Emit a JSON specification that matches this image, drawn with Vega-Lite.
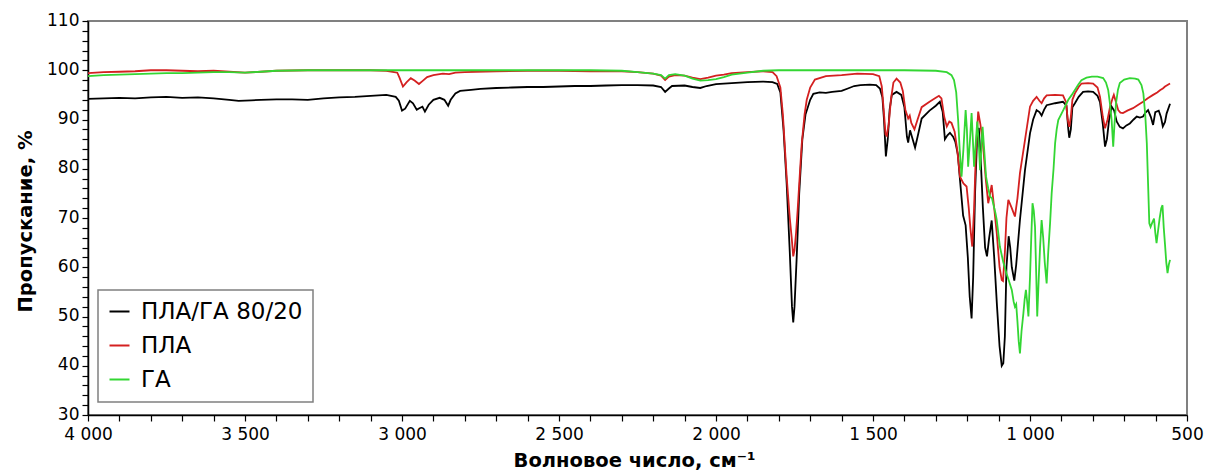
{
  "$schema": "https://vega.github.io/schema/vega-lite/v6.json",
  "width": 1099,
  "height": 394,
  "autosize": {"type": "none"},
  "padding": {"left": 88, "top": 21, "right": 20, "bottom": 57},
  "background": "white",
  "config": {
    "view": {"stroke": "#808080", "strokeWidth": 2},
    "font": "DejaVu Sans",
    "legend": {"strokeWidth": 1.5},
    "axis": {
      "labelFont": "DejaVu Sans", "labelFontSize": 17, "labelColor": "#000000",
      "titleFont": "DejaVu Sans", "titleFontSize": 19.5, "titleFontWeight": "bold", "titleColor": "#000000",
      "domainColor": "#000000", "domainWidth": 1.5, "ticks": true, "tickColor": "#000000", "tickWidth": 1.2, "tickSize": 6, "grid": false
    }
  },
  "data": {
    "values": [
      {"s":"ПЛА/ГА 80/20","w":4000,"t":94.2},{"s":"ПЛА/ГА 80/20","w":3950,"t":94.3},{"s":"ПЛА/ГА 80/20","w":3900,"t":94.4},{"s":"ПЛА/ГА 80/20","w":3850,"t":94.3},{"s":"ПЛА/ГА 80/20","w":3800,"t":94.5},{"s":"ПЛА/ГА 80/20","w":3750,"t":94.6},{"s":"ПЛА/ГА 80/20","w":3700,"t":94.4},{"s":"ПЛА/ГА 80/20","w":3650,"t":94.5},{"s":"ПЛА/ГА 80/20","w":3600,"t":94.3},{"s":"ПЛА/ГА 80/20","w":3550,"t":94.0},{"s":"ПЛА/ГА 80/20","w":3520,"t":93.8},{"s":"ПЛА/ГА 80/20","w":3480,"t":93.9},{"s":"ПЛА/ГА 80/20","w":3450,"t":94.0},{"s":"ПЛА/ГА 80/20","w":3400,"t":94.1},{"s":"ПЛА/ГА 80/20","w":3350,"t":94.1},{"s":"ПЛА/ГА 80/20","w":3300,"t":94.0},{"s":"ПЛА/ГА 80/20","w":3250,"t":94.3},{"s":"ПЛА/ГА 80/20","w":3200,"t":94.5},{"s":"ПЛА/ГА 80/20","w":3150,"t":94.6},{"s":"ПЛА/ГА 80/20","w":3100,"t":94.8},{"s":"ПЛА/ГА 80/20","w":3050,"t":95.0},{"s":"ПЛА/ГА 80/20","w":3020,"t":94.6},{"s":"ПЛА/ГА 80/20","w":3010,"t":93.8},{"s":"ПЛА/ГА 80/20","w":3000,"t":91.8},{"s":"ПЛА/ГА 80/20","w":2990,"t":92.2},{"s":"ПЛА/ГА 80/20","w":2975,"t":93.8},{"s":"ПЛА/ГА 80/20","w":2965,"t":93.3},{"s":"ПЛА/ГА 80/20","w":2953,"t":92.0},{"s":"ПЛА/ГА 80/20","w":2945,"t":92.3},{"s":"ПЛА/ГА 80/20","w":2935,"t":92.6},{"s":"ПЛА/ГА 80/20","w":2927,"t":91.6},{"s":"ПЛА/ГА 80/20","w":2915,"t":93.0},{"s":"ПЛА/ГА 80/20","w":2900,"t":94.0},{"s":"ПЛА/ГА 80/20","w":2880,"t":94.4},{"s":"ПЛА/ГА 80/20","w":2865,"t":94.0},{"s":"ПЛА/ГА 80/20","w":2853,"t":92.8},{"s":"ПЛА/ГА 80/20","w":2845,"t":94.0},{"s":"ПЛА/ГА 80/20","w":2830,"t":95.3},{"s":"ПЛА/ГА 80/20","w":2815,"t":95.8},{"s":"ПЛА/ГА 80/20","w":2780,"t":96.0},{"s":"ПЛА/ГА 80/20","w":2750,"t":96.2},{"s":"ПЛА/ГА 80/20","w":2700,"t":96.4},{"s":"ПЛА/ГА 80/20","w":2650,"t":96.5},{"s":"ПЛА/ГА 80/20","w":2600,"t":96.6},{"s":"ПЛА/ГА 80/20","w":2550,"t":96.6},{"s":"ПЛА/ГА 80/20","w":2500,"t":96.7},{"s":"ПЛА/ГА 80/20","w":2450,"t":96.8},{"s":"ПЛА/ГА 80/20","w":2400,"t":96.8},{"s":"ПЛА/ГА 80/20","w":2350,"t":96.9},{"s":"ПЛА/ГА 80/20","w":2300,"t":97.0},{"s":"ПЛА/ГА 80/20","w":2250,"t":97.0},{"s":"ПЛА/ГА 80/20","w":2200,"t":96.9},{"s":"ПЛА/ГА 80/20","w":2175,"t":96.6},{"s":"ПЛА/ГА 80/20","w":2162,"t":95.6},{"s":"ПЛА/ГА 80/20","w":2150,"t":96.3},{"s":"ПЛА/ГА 80/20","w":2140,"t":96.8},{"s":"ПЛА/ГА 80/20","w":2100,"t":96.9},{"s":"ПЛА/ГА 80/20","w":2075,"t":96.6},{"s":"ПЛА/ГА 80/20","w":2050,"t":96.4},{"s":"ПЛА/ГА 80/20","w":2030,"t":96.8},{"s":"ПЛА/ГА 80/20","w":2000,"t":97.2},{"s":"ПЛА/ГА 80/20","w":1950,"t":97.4},{"s":"ПЛА/ГА 80/20","w":1900,"t":97.6},{"s":"ПЛА/ГА 80/20","w":1850,"t":97.7},{"s":"ПЛА/ГА 80/20","w":1820,"t":97.6},{"s":"ПЛА/ГА 80/20","w":1805,"t":97.2},{"s":"ПЛА/ГА 80/20","w":1795,"t":95.5},{"s":"ПЛА/ГА 80/20","w":1785,"t":88},{"s":"ПЛА/ГА 80/20","w":1775,"t":77},{"s":"ПЛА/ГА 80/20","w":1765,"t":63},{"s":"ПЛА/ГА 80/20","w":1758,"t":52},{"s":"ПЛА/ГА 80/20","w":1754,"t":48.8},{"s":"ПЛА/ГА 80/20","w":1750,"t":52},{"s":"ПЛА/ГА 80/20","w":1743,"t":62},{"s":"ПЛА/ГА 80/20","w":1735,"t":75},{"s":"ПЛА/ГА 80/20","w":1725,"t":86},{"s":"ПЛА/ГА 80/20","w":1715,"t":91},{"s":"ПЛА/ГА 80/20","w":1700,"t":94},{"s":"ПЛА/ГА 80/20","w":1690,"t":95.2},{"s":"ПЛА/ГА 80/20","w":1670,"t":95.5},{"s":"ПЛА/ГА 80/20","w":1650,"t":95.4},{"s":"ПЛА/ГА 80/20","w":1630,"t":95.6},{"s":"ПЛА/ГА 80/20","w":1600,"t":95.8},{"s":"ПЛА/ГА 80/20","w":1580,"t":96.3},{"s":"ПЛА/ГА 80/20","w":1560,"t":96.8},{"s":"ПЛА/ГА 80/20","w":1540,"t":97.0},{"s":"ПЛА/ГА 80/20","w":1510,"t":97.1},{"s":"ПЛА/ГА 80/20","w":1490,"t":97.0},{"s":"ПЛА/ГА 80/20","w":1478,"t":96.3},{"s":"ПЛА/ГА 80/20","w":1470,"t":94.5},{"s":"ПЛА/ГА 80/20","w":1465,"t":90},{"s":"ПЛА/ГА 80/20","w":1459,"t":82.5},{"s":"ПЛА/ГА 80/20","w":1453,"t":86},{"s":"ПЛА/ГА 80/20","w":1447,"t":92},{"s":"ПЛА/ГА 80/20","w":1440,"t":95.0},{"s":"ПЛА/ГА 80/20","w":1425,"t":95.6},{"s":"ПЛА/ГА 80/20","w":1410,"t":95.0},{"s":"ПЛА/ГА 80/20","w":1400,"t":92.5},{"s":"ПЛА/ГА 80/20","w":1392,"t":86.5},{"s":"ПЛА/ГА 80/20","w":1388,"t":85.3},{"s":"ПЛА/ГА 80/20","w":1382,"t":87.8},{"s":"ПЛА/ГА 80/20","w":1376,"t":86.5},{"s":"ПЛА/ГА 80/20","w":1366,"t":84.3},{"s":"ПЛА/ГА 80/20","w":1358,"t":86.5},{"s":"ПЛА/ГА 80/20","w":1345,"t":90.2},{"s":"ПЛА/ГА 80/20","w":1320,"t":91.8},{"s":"ПЛА/ГА 80/20","w":1300,"t":92.8},{"s":"ПЛА/ГА 80/20","w":1287,"t":93.6},{"s":"ПЛА/ГА 80/20","w":1278,"t":91.5},{"s":"ПЛА/ГА 80/20","w":1271,"t":86.0},{"s":"ПЛА/ГА 80/20","w":1263,"t":86.8},{"s":"ПЛА/ГА 80/20","w":1255,"t":87.3},{"s":"ПЛА/ГА 80/20","w":1245,"t":86.5},{"s":"ПЛА/ГА 80/20","w":1238,"t":85.5},{"s":"ПЛА/ГА 80/20","w":1230,"t":83},{"s":"ПЛА/ГА 80/20","w":1223,"t":77.8},{"s":"ПЛА/ГА 80/20","w":1213,"t":70.5},{"s":"ПЛА/ГА 80/20","w":1205,"t":68.5},{"s":"ПЛА/ГА 80/20","w":1198,"t":62},{"s":"ПЛА/ГА 80/20","w":1192,"t":54},{"s":"ПЛА/ГА 80/20","w":1186,"t":49.6},{"s":"ПЛА/ГА 80/20","w":1181,"t":58},{"s":"ПЛА/ГА 80/20","w":1175,"t":75},{"s":"ПЛА/ГА 80/20","w":1168,"t":87},{"s":"ПЛА/ГА 80/20","w":1163,"t":88.3},{"s":"ПЛА/ГА 80/20","w":1157,"t":82},{"s":"ПЛА/ГА 80/20","w":1150,"t":72},{"s":"ПЛА/ГА 80/20","w":1143,"t":64},{"s":"ПЛА/ГА 80/20","w":1137,"t":62.2},{"s":"ПЛА/ГА 80/20","w":1130,"t":66},{"s":"ПЛА/ГА 80/20","w":1122,"t":69.5},{"s":"ПЛА/ГА 80/20","w":1114,"t":62},{"s":"ПЛА/ГА 80/20","w":1105,"t":52},{"s":"ПЛА/ГА 80/20","w":1097,"t":44},{"s":"ПЛА/ГА 80/20","w":1090,"t":40},{"s":"ПЛА/ГА 80/20","w":1085,"t":40.5},{"s":"ПЛА/ГА 80/20","w":1080,"t":46},{"s":"ПЛА/ГА 80/20","w":1075,"t":60},{"s":"ПЛА/ГА 80/20","w":1068,"t":66.3},{"s":"ПЛА/ГА 80/20","w":1063,"t":64},{"s":"ПЛА/ГА 80/20","w":1058,"t":60},{"s":"ПЛА/ГА 80/20","w":1050,"t":57.3},{"s":"ПЛА/ГА 80/20","w":1044,"t":60.5},{"s":"ПЛА/ГА 80/20","w":1032,"t":69.6},{"s":"ПЛА/ГА 80/20","w":1016,"t":79.7},{"s":"ПЛА/ГА 80/20","w":1000,"t":87.2},{"s":"ПЛА/ГА 80/20","w":990,"t":90.0},{"s":"ПЛА/ГА 80/20","w":979,"t":91.9},{"s":"ПЛА/ГА 80/20","w":970,"t":91.5},{"s":"ПЛА/ГА 80/20","w":963,"t":90.8},{"s":"ПЛА/ГА 80/20","w":955,"t":92.0},{"s":"ПЛА/ГА 80/20","w":947,"t":92.9},{"s":"ПЛА/ГА 80/20","w":920,"t":93.3},{"s":"ПЛА/ГА 80/20","w":895,"t":93.6},{"s":"ПЛА/ГА 80/20","w":884,"t":92.8},{"s":"ПЛА/ГА 80/20","w":878,"t":88},{"s":"ПЛА/ГА 80/20","w":875,"t":86.3},{"s":"ПЛА/ГА 80/20","w":870,"t":88},{"s":"ПЛА/ГА 80/20","w":865,"t":92.5},{"s":"ПЛА/ГА 80/20","w":857,"t":93.3},{"s":"ПЛА/ГА 80/20","w":845,"t":94.6},{"s":"ПЛА/ГА 80/20","w":831,"t":95.6},{"s":"ПЛА/ГА 80/20","w":815,"t":95.7},{"s":"ПЛА/ГА 80/20","w":799,"t":95.6},{"s":"ПЛА/ГА 80/20","w":785,"t":94.8},{"s":"ПЛА/ГА 80/20","w":777,"t":93.5},{"s":"ПЛА/ГА 80/20","w":768,"t":89},{"s":"ПЛА/ГА 80/20","w":761,"t":84.5},{"s":"ПЛА/ГА 80/20","w":755,"t":86},{"s":"ПЛА/ГА 80/20","w":748,"t":90},{"s":"ПЛА/ГА 80/20","w":740,"t":92.6},{"s":"ПЛА/ГА 80/20","w":732,"t":91.8},{"s":"ПЛА/ГА 80/20","w":724,"t":89.6},{"s":"ПЛА/ГА 80/20","w":714,"t":88.5},{"s":"ПЛА/ГА 80/20","w":704,"t":88.2},{"s":"ПЛА/ГА 80/20","w":693,"t":88.8},{"s":"ПЛА/ГА 80/20","w":682,"t":89.2},{"s":"ПЛА/ГА 80/20","w":670,"t":90.0},{"s":"ПЛА/ГА 80/20","w":660,"t":90.6},{"s":"ПЛА/ГА 80/20","w":650,"t":90.4},{"s":"ПЛА/ГА 80/20","w":640,"t":90.6},{"s":"ПЛА/ГА 80/20","w":632,"t":91.4},{"s":"ПЛА/ГА 80/20","w":624,"t":91.9},{"s":"ПЛА/ГА 80/20","w":615,"t":90.5},{"s":"ПЛА/ГА 80/20","w":608,"t":88.9},{"s":"ПЛА/ГА 80/20","w":601,"t":91.5},{"s":"ПЛА/ГА 80/20","w":590,"t":91.8},{"s":"ПЛА/ГА 80/20","w":583,"t":90.5},{"s":"ПЛА/ГА 80/20","w":577,"t":88.6},{"s":"ПЛА/ГА 80/20","w":570,"t":89.5},{"s":"ПЛА/ГА 80/20","w":565,"t":91.2},{"s":"ПЛА/ГА 80/20","w":554,"t":93.2},

      {"s":"ПЛА","w":4000,"t":99.4},{"s":"ПЛА","w":3950,"t":99.6},{"s":"ПЛА","w":3900,"t":99.7},{"s":"ПЛА","w":3850,"t":99.8},{"s":"ПЛА","w":3800,"t":100.0},{"s":"ПЛА","w":3750,"t":100.0},{"s":"ПЛА","w":3700,"t":99.9},{"s":"ПЛА","w":3650,"t":99.8},{"s":"ПЛА","w":3600,"t":99.9},{"s":"ПЛА","w":3550,"t":99.7},{"s":"ПЛА","w":3500,"t":99.5},{"s":"ПЛА","w":3450,"t":99.7},{"s":"ПЛА","w":3400,"t":99.9},{"s":"ПЛА","w":3300,"t":100.0},{"s":"ПЛА","w":3200,"t":100.0},{"s":"ПЛА","w":3100,"t":100.0},{"s":"ПЛА","w":3050,"t":99.9},{"s":"ПЛА","w":3015,"t":99.5},{"s":"ПЛА","w":3008,"t":98.5},{"s":"ПЛА","w":2997,"t":96.7},{"s":"ПЛА","w":2985,"t":97.6},{"s":"ПЛА","w":2972,"t":98.4},{"s":"ПЛА","w":2960,"t":97.9},{"s":"ПЛА","w":2946,"t":97.2},{"s":"ПЛА","w":2935,"t":97.8},{"s":"ПЛА","w":2920,"t":98.6},{"s":"ПЛА","w":2900,"t":99.0},{"s":"ПЛА","w":2870,"t":99.3},{"s":"ПЛА","w":2850,"t":99.2},{"s":"ПЛА","w":2830,"t":99.5},{"s":"ПЛА","w":2800,"t":99.6},{"s":"ПЛА","w":2700,"t":99.8},{"s":"ПЛА","w":2600,"t":99.9},{"s":"ПЛА","w":2500,"t":99.9},{"s":"ПЛА","w":2400,"t":99.8},{"s":"ПЛА","w":2300,"t":99.8},{"s":"ПЛА","w":2250,"t":99.6},{"s":"ПЛА","w":2200,"t":99.3},{"s":"ПЛА","w":2175,"t":98.9},{"s":"ПЛА","w":2162,"t":98.0},{"s":"ПЛА","w":2150,"t":98.7},{"s":"ПЛА","w":2130,"t":99.0},{"s":"ПЛА","w":2100,"t":98.9},{"s":"ПЛА","w":2075,"t":98.5},{"s":"ПЛА","w":2050,"t":98.2},{"s":"ПЛА","w":2025,"t":98.5},{"s":"ПЛА","w":2000,"t":98.9},{"s":"ПЛА","w":1975,"t":99.1},{"s":"ПЛА","w":1950,"t":99.4},{"s":"ПЛА","w":1900,"t":99.6},{"s":"ПЛА","w":1850,"t":99.8},{"s":"ПЛА","w":1820,"t":99.6},{"s":"ПЛА","w":1807,"t":98.8},{"s":"ПЛА","w":1795,"t":96.5},{"s":"ПЛА","w":1787,"t":91},{"s":"ПЛА","w":1775,"t":78.4},{"s":"ПЛА","w":1765,"t":70},{"s":"ПЛА","w":1759,"t":66},{"s":"ПЛА","w":1754,"t":62.2},{"s":"ПЛА","w":1750,"t":63.5},{"s":"ПЛА","w":1745,"t":67},{"s":"ПЛА","w":1740,"t":71.6},{"s":"ПЛА","w":1732,"t":80},{"s":"ПЛА","w":1727,"t":85},{"s":"ПЛА","w":1718,"t":91},{"s":"ПЛА","w":1711,"t":94.0},{"s":"ПЛА","w":1700,"t":96.5},{"s":"ПЛА","w":1685,"t":98.1},{"s":"ПЛА","w":1650,"t":98.8},{"s":"ПЛА","w":1600,"t":99.0},{"s":"ПЛА","w":1550,"t":99.3},{"s":"ПЛА","w":1500,"t":99.2},{"s":"ПЛА","w":1480,"t":98.8},{"s":"ПЛА","w":1472,"t":96.7},{"s":"ПЛА","w":1466,"t":92},{"s":"ПЛА","w":1460,"t":87},{"s":"ПЛА","w":1456,"t":86.7},{"s":"ПЛА","w":1450,"t":89},{"s":"ПЛА","w":1443,"t":94},{"s":"ПЛА","w":1435,"t":97.5},{"s":"ПЛА","w":1425,"t":98.3},{"s":"ПЛА","w":1413,"t":97.5},{"s":"ПЛА","w":1405,"t":95.8},{"s":"ПЛА","w":1397,"t":92},{"s":"ПЛА","w":1388,"t":90.2},{"s":"ПЛА","w":1383,"t":90.8},{"s":"ПЛА","w":1378,"t":89.3},{"s":"ПЛА","w":1368,"t":88.0},{"s":"ПЛА","w":1358,"t":90},{"s":"ПЛА","w":1345,"t":92.5},{"s":"ПЛА","w":1320,"t":93.6},{"s":"ПЛА","w":1300,"t":94.4},{"s":"ПЛА","w":1290,"t":94.8},{"s":"ПЛА","w":1282,"t":94.3},{"s":"ПЛА","w":1273,"t":90.5},{"s":"ПЛА","w":1265,"t":88.6},{"s":"ПЛА","w":1257,"t":89.6},{"s":"ПЛА","w":1250,"t":89.3},{"s":"ПЛА","w":1240,"t":87.5},{"s":"ПЛА","w":1232,"t":84},{"s":"ПЛА","w":1223,"t":78.4},{"s":"ПЛА","w":1212,"t":77},{"s":"ПЛА","w":1202,"t":76.4},{"s":"ПЛА","w":1195,"t":72},{"s":"ПЛА","w":1190,"t":68},{"s":"ПЛА","w":1184,"t":64.2},{"s":"ПЛА","w":1178,"t":72},{"s":"ПЛА","w":1172,"t":84},{"s":"ПЛА","w":1165,"t":91.6},{"s":"ПЛА","w":1158,"t":89},{"s":"ПЛА","w":1150,"t":85.2},{"s":"ПЛА","w":1141,"t":78},{"s":"ПЛА","w":1133,"t":73.0},{"s":"ПЛА","w":1122,"t":76.7},{"s":"ПЛА","w":1114,"t":72},{"s":"ПЛА","w":1106,"t":67},{"s":"ПЛА","w":1097,"t":60},{"s":"ПЛА","w":1090,"t":57.4},{"s":"ПЛА","w":1086,"t":57.2},{"s":"ПЛА","w":1080,"t":63},{"s":"ПЛА","w":1075,"t":70},{"s":"ПЛА","w":1069,"t":73.7},{"s":"ПЛА","w":1058,"t":72.0},{"s":"ПЛА","w":1048,"t":70.3},{"s":"ПЛА","w":1040,"t":74},{"s":"ПЛА","w":1032,"t":79.1},{"s":"ПЛА","w":1016,"t":85.8},{"s":"ПЛА","w":1000,"t":92.6},{"s":"ПЛА","w":990,"t":93.8},{"s":"ПЛА","w":979,"t":94.6},{"s":"ПЛА","w":970,"t":93.8},{"s":"ПЛА","w":963,"t":93.3},{"s":"ПЛА","w":955,"t":94.3},{"s":"ПЛА","w":947,"t":94.9},{"s":"ПЛА","w":920,"t":95.0},{"s":"ПЛА","w":895,"t":94.9},{"s":"ПЛА","w":885,"t":93.5},{"s":"ПЛА","w":880,"t":90},{"s":"ПЛА","w":875,"t":88.5},{"s":"ПЛА","w":870,"t":90.5},{"s":"ПЛА","w":865,"t":94},{"s":"ПЛА","w":857,"t":95.3},{"s":"ПЛА","w":845,"t":96.6},{"s":"ПЛА","w":836,"t":97.3},{"s":"ПЛА","w":815,"t":97.4},{"s":"ПЛА","w":799,"t":97.3},{"s":"ПЛА","w":785,"t":96.5},{"s":"ПЛА","w":777,"t":94.6},{"s":"ПЛА","w":768,"t":90.5},{"s":"ПЛА","w":761,"t":88.2},{"s":"ПЛА","w":753,"t":90},{"s":"ПЛА","w":745,"t":92.6},{"s":"ПЛА","w":737,"t":94.3},{"s":"ПЛА","w":733,"t":95.0},{"s":"ПЛА","w":726,"t":93.5},{"s":"ПЛА","w":719,"t":91.9},{"s":"ПЛА","w":712,"t":91.4},{"s":"ПЛА","w":704,"t":91.3},{"s":"ПЛА","w":690,"t":91.8},{"s":"ПЛА","w":672,"t":92.3},{"s":"ПЛА","w":655,"t":93.0},{"s":"ПЛА","w":640,"t":93.6},{"s":"ПЛА","w":625,"t":94.3},{"s":"ПЛА","w":608,"t":95.0},{"s":"ПЛА","w":595,"t":95.5},{"s":"ПЛА","w":585,"t":96.0},{"s":"ПЛА","w":577,"t":96.3},{"s":"ПЛА","w":570,"t":96.7},{"s":"ПЛА","w":562,"t":97.0},{"s":"ПЛА","w":554,"t":97.3},

      {"s":"ГА","w":4000,"t":98.8},{"s":"ГА","w":3950,"t":99.0},{"s":"ГА","w":3900,"t":99.1},{"s":"ГА","w":3850,"t":99.2},{"s":"ГА","w":3800,"t":99.3},{"s":"ГА","w":3750,"t":99.4},{"s":"ГА","w":3700,"t":99.4},{"s":"ГА","w":3650,"t":99.5},{"s":"ГА","w":3600,"t":99.6},{"s":"ГА","w":3550,"t":99.6},{"s":"ГА","w":3500,"t":99.5},{"s":"ГА","w":3450,"t":99.7},{"s":"ГА","w":3400,"t":99.9},{"s":"ГА","w":3300,"t":100.0},{"s":"ГА","w":3000,"t":100.0},{"s":"ГА","w":2700,"t":100.0},{"s":"ГА","w":2400,"t":100.0},{"s":"ГА","w":2300,"t":99.9},{"s":"ГА","w":2250,"t":99.6},{"s":"ГА","w":2200,"t":99.3},{"s":"ГА","w":2175,"t":99.0},{"s":"ГА","w":2162,"t":98.3},{"s":"ГА","w":2150,"t":99.0},{"s":"ГА","w":2130,"t":99.2},{"s":"ГА","w":2100,"t":98.9},{"s":"ГА","w":2075,"t":98.3},{"s":"ГА","w":2050,"t":97.9},{"s":"ГА","w":2025,"t":98.0},{"s":"ГА","w":2000,"t":98.2},{"s":"ГА","w":1975,"t":98.6},{"s":"ГА","w":1950,"t":99.1},{"s":"ГА","w":1900,"t":99.5},{"s":"ГА","w":1850,"t":99.9},{"s":"ГА","w":1800,"t":100.0},{"s":"ГА","w":1600,"t":100.0},{"s":"ГА","w":1400,"t":100.0},{"s":"ГА","w":1300,"t":99.9},{"s":"ГА","w":1265,"t":99.6},{"s":"ГА","w":1250,"t":99.0},{"s":"ГА","w":1242,"t":98.0},{"s":"ГА","w":1235,"t":95.5},{"s":"ГА","w":1229,"t":90},{"s":"ГА","w":1224,"t":84},{"s":"ГА","w":1218,"t":78.4},{"s":"ГА","w":1212,"t":84},{"s":"ГА","w":1205,"t":91.9},{"s":"ГА","w":1201,"t":88},{"s":"ГА","w":1197,"t":80.4},{"s":"ГА","w":1191,"t":86},{"s":"ГА","w":1186,"t":91.3},{"s":"ГА","w":1182,"t":86},{"s":"ГА","w":1178,"t":80.4},{"s":"ГА","w":1173,"t":85},{"s":"ГА","w":1168,"t":89.6},{"s":"ГА","w":1163,"t":85},{"s":"ГА","w":1159,"t":79.7},{"s":"ГА","w":1155,"t":84},{"s":"ГА","w":1151,"t":88.5},{"s":"ГА","w":1146,"t":84},{"s":"ГА","w":1140,"t":78.4},{"s":"ГА","w":1133,"t":76},{"s":"ГА","w":1127,"t":74.3},{"s":"ГА","w":1121,"t":74},{"s":"ГА","w":1115,"t":72.3},{"s":"ГА","w":1110,"t":71},{"s":"ГА","w":1106,"t":69.6},{"s":"ГА","w":1101,"t":67},{"s":"ГА","w":1096,"t":64.2},{"s":"ГА","w":1085,"t":61},{"s":"ГА","w":1075,"t":58.8},{"s":"ГА","w":1066,"t":57},{"s":"ГА","w":1058,"t":55.4},{"s":"ГА","w":1052,"t":53},{"s":"ГА","w":1048,"t":52.0},{"s":"ГА","w":1044,"t":52.5},{"s":"ГА","w":1040,"t":49},{"s":"ГА","w":1036,"t":45},{"s":"ГА","w":1032,"t":42.5},{"s":"ГА","w":1027,"t":47},{"s":"ГА","w":1021,"t":50.7},{"s":"ГА","w":1017,"t":53.5},{"s":"ГА","w":1013,"t":55.4},{"s":"ГА","w":1009,"t":53},{"s":"ГА","w":1005,"t":50.0},{"s":"ГА","w":1000,"t":58},{"s":"ГА","w":996,"t":66},{"s":"ГА","w":992,"t":73.0},{"s":"ГА","w":988,"t":71.5},{"s":"ГА","w":984,"t":68.2},{"s":"ГА","w":980,"t":58},{"s":"ГА","w":977,"t":50.0},{"s":"ГА","w":972,"t":58},{"s":"ГА","w":968,"t":64},{"s":"ГА","w":963,"t":69.6},{"s":"ГА","w":958,"t":66},{"s":"ГА","w":953,"t":61},{"s":"ГА","w":947,"t":56.7},{"s":"ГА","w":942,"t":63},{"s":"ГА","w":936,"t":69},{"s":"ГА","w":931,"t":75.0},{"s":"ГА","w":925,"t":80},{"s":"ГА","w":920,"t":85.2},{"s":"ГА","w":915,"t":88},{"s":"ГА","w":910,"t":89.9},{"s":"ГА","w":894,"t":91.9},{"s":"ГА","w":878,"t":94.0},{"s":"ГА","w":867,"t":95},{"s":"ГА","w":857,"t":96.0},{"s":"ГА","w":846,"t":97.1},{"s":"ГА","w":836,"t":98.0},{"s":"ГА","w":820,"t":98.5},{"s":"ГА","w":803,"t":98.7},{"s":"ГА","w":785,"t":98.7},{"s":"ГА","w":767,"t":98.4},{"s":"ГА","w":758,"t":97.5},{"s":"ГА","w":751,"t":96.0},{"s":"ГА","w":745,"t":93},{"s":"ГА","w":740,"t":89.9},{"s":"ГА","w":735,"t":84.5},{"s":"ГА","w":731,"t":89},{"s":"ГА","w":726,"t":93.3},{"s":"ГА","w":720,"t":96},{"s":"ГА","w":714,"t":97.4},{"s":"ГА","w":700,"t":98.1},{"s":"ГА","w":682,"t":98.4},{"s":"ГА","w":665,"t":98.3},{"s":"ГА","w":655,"t":98.1},{"s":"ГА","w":645,"t":97},{"s":"ГА","w":639,"t":95.3},{"s":"ГА","w":633,"t":91},{"s":"ГА","w":628,"t":85.2},{"s":"ГА","w":624,"t":77},{"s":"ГА","w":620,"t":68.9},{"s":"ГА","w":616,"t":68.2},{"s":"ГА","w":611,"t":69},{"s":"ГА","w":605,"t":69.9},{"s":"ГА","w":601,"t":67},{"s":"ГА","w":597,"t":64.9},{"s":"ГА","w":592,"t":67.5},{"s":"ГА","w":587,"t":70},{"s":"ГА","w":582,"t":72},{"s":"ГА","w":578,"t":72.6},{"s":"ГА","w":574,"t":68},{"s":"ГА","w":570,"t":64.6},{"s":"ГА","w":566,"t":61},{"s":"ГА","w":562,"t":58.8},{"s":"ГА","w":558,"t":60.5},{"s":"ГА","w":554,"t":61.5}
    ]
  },
  "mark": {"type": "line", "strokeWidth": 1.8, "clip": true},
  "encoding": {
    "x": {
      "field": "w", "type": "quantitative",
      "scale": {"domain": [500, 4000], "reverse": true, "nice": false, "zero": false},
      "axis": {
        "title": "Волновое число, см⁻¹",
        "values": [500,600,700,800,900,1000,1100,1200,1300,1400,1500,1600,1700,1800,1900,2000,2100,2200,2300,2400,2500,2600,2700,2800,2900,3000,3100,3200,3300,3400,3500,3600,3700,3800,3900,4000],
        "labelExpr": "datum.value % 500 === 0 ? replace(format(datum.value, ','), ',', ' ') : ''",
        "tickSize": 6,
        "labelPadding": 5,
        "labelOverlap": false,
        "labelFlush": false,
        "titleX": 546,
        "titleY": 36,
        "titleBaseline": "top"
      }
    },
    "y": {
      "field": "t", "type": "quantitative",
      "scale": {"domain": [30, 110], "nice": false, "zero": false},
      "axis": {
        "title": "Пропускание, %",
        "values": [30,32,34,36,38,40,42,44,46,48,50,52,54,56,58,60,62,64,66,68,70,72,74,76,78,80,82,84,86,88,90,92,94,96,98,100,102,104,106,108,110],
        "labelExpr": "datum.value % 10 === 0 ? datum.value : ''",
        "tickSize": 6,
        "labelPadding": 3,
        "labelOffset": -1,
        "labelOverlap": false,
        "labelFlush": false,
        "titleX": -63,
        "titleY": 200,
        "titleBaseline": "middle",
        "titleAngle": 270
      }
    },
    "color": {
      "field": "s", "type": "nominal",
      "scale": {"domain": ["ПЛА/ГА 80/20", "ПЛА", "ГА"], "range": ["#000000", "#d42020", "#33d633"]},
      "legend": {
        "title": null,
        "orient": "none",
        "legendX": 10,
        "legendY": 269,
        "strokeColor": "#808080",
        "fillColor": "#ffffff",
        "padding": 10,
        "labelFont": "DejaVu Sans",
        "labelFontSize": 23,
        "labelLimit": 0,
        "labelColor": "#000000",
        "labelOffset": 10,
        "symbolType": "stroke",
        "symbolSize": 400,
        "symbolStrokeWidth": 2,
        "rowPadding": 10
      }
    }
  }
}
